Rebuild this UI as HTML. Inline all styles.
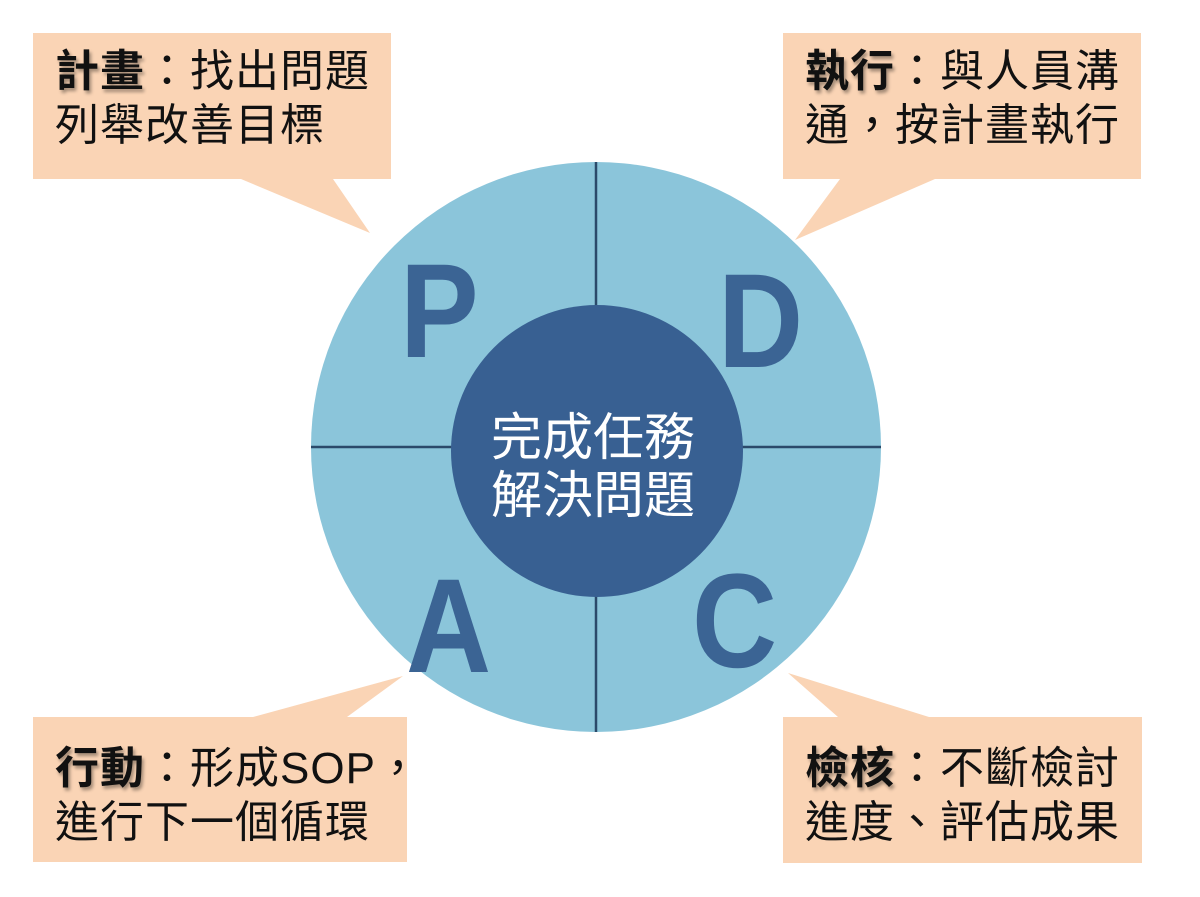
<!DOCTYPE html>
<html><head><meta charset="utf-8"><style>
html,body{margin:0;padding:0;background:#fff;}
#c{position:relative;width:1200px;height:897px;overflow:hidden;font-family:"Liberation Sans","Noto Sans CJK TC",sans-serif;}
.t{position:absolute;font-size:44px;line-height:54px;color:#111;white-space:nowrap;letter-spacing:1px;}
.t b{font-weight:bold;text-shadow:2px 3px 3px rgba(0,0,0,0.35);}
.L{position:absolute;font-family:"Liberation Sans",sans-serif;font-weight:bold;color:#3b6494;font-size:134px;line-height:1;transform:scaleX(0.88);transform-origin:left top;}
.m{position:absolute;color:#fff;font-size:51px;line-height:58px;text-align:center;width:300px;left:443px;}
</style></head><body><div id="c">
<svg width="1200" height="897" style="position:absolute;left:0;top:0">
<polygon points="33,33 391,33 391,179 333,179 370,233 241,179 33,179" fill="#fad4b5"/>
<polygon points="783,33 1141,33 1141,179 935,179 795,240 840,179 783,179" fill="#fad4b5"/>
<polygon points="33,717 253,717 403,676 347,717 407,717 407,862 33,862" fill="#fad4b5"/>
<polygon points="783,717 838,717 788,673 929,717 1142,717 1142,863 783,863" fill="#fad4b5"/>
<circle cx="596" cy="447" r="285" fill="#8bc5da"/>
<line x1="596" y1="162" x2="596" y2="732" stroke="#2b4a6a" stroke-width="2.5"/>
<line x1="311" y1="447" x2="881" y2="447" stroke="#2b4a6a" stroke-width="2.5"/>
<circle cx="597" cy="451" r="146" fill="#386092"/>
</svg>
<div class="L" style="left:400px;top:245px">P</div>
<div class="L" style="left:718px;top:255px">D</div>
<div class="L" style="left:406px;top:560px">A</div>
<div class="L" style="left:692px;top:555px">C</div>
<div class="m" style="top:409px">完成任務<br>解決問題</div>
<div class="t" style="left:55px;top:45px"><b>計畫</b>：找出問題<br>列舉改善目標</div>
<div class="t" style="left:805px;top:45px"><b>執行</b>：與人員溝<br>通，按計畫執行</div>
<div class="t" style="left:55px;top:742px"><b>行動</b>：形成SOP，<br>進行下一個循環</div>
<div class="t" style="left:805px;top:742px"><b>檢核</b>：不斷檢討<br>進度、評估成果</div>
</div></body></html>
